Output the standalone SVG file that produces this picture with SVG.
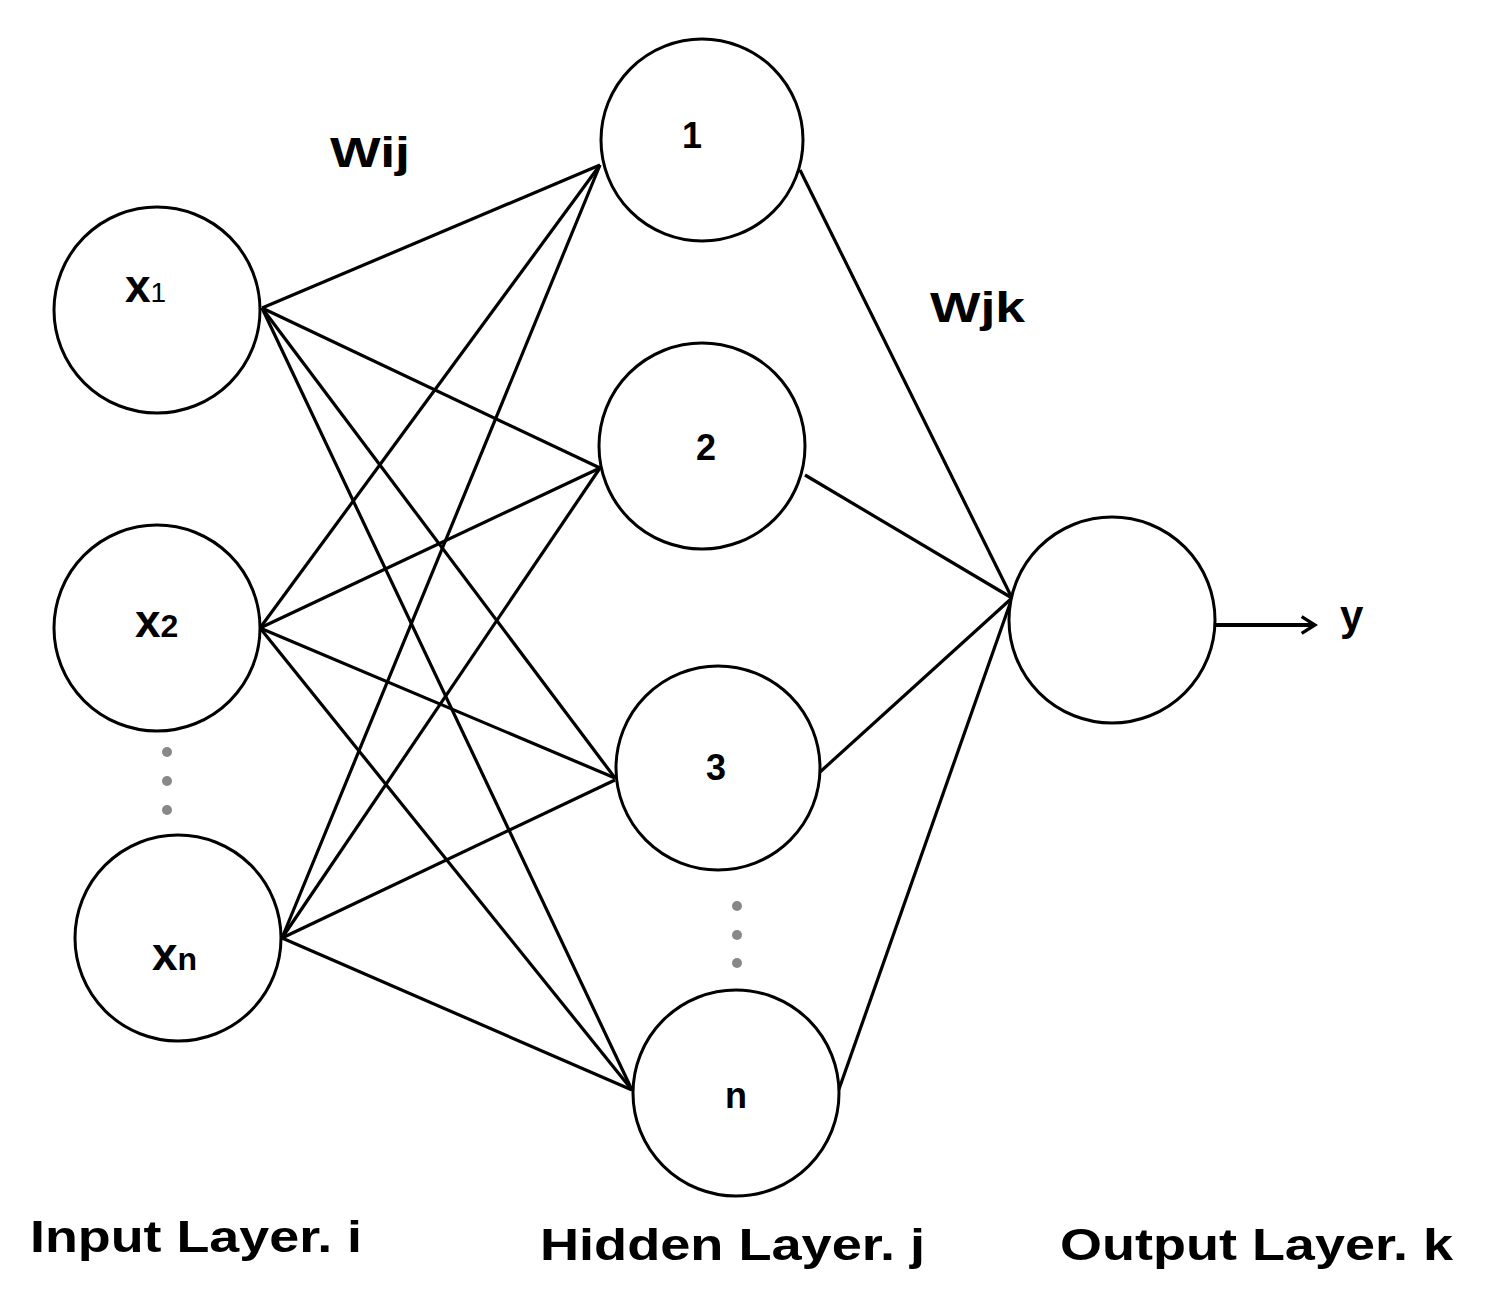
<svg xmlns="http://www.w3.org/2000/svg" width="1495" height="1306" viewBox="0 0 1495 1306">
<style>
.n{fill:#fff;stroke:#000;stroke-width:3}
.e line{stroke:#000;stroke-width:3.2}
text{font-family:"Liberation Sans",Arial,sans-serif;font-weight:bold;fill:#000}
.d{fill:#888}
</style>
<defs><marker id="a" viewBox="0 0 12 12" refX="10" refY="6" markerWidth="20" markerHeight="20" markerUnits="userSpaceOnUse" orient="auto"><path d="M2,1 L10,6 L2,11" fill="none" stroke="#000" stroke-width="2"/></marker></defs>
<rect width="1495" height="1306" fill="#fff"/>
<g class="e" id="connectors">
<line x1="262" y1="308" x2="600" y2="165"/><line x1="262" y1="308" x2="600" y2="468"/><line x1="262" y1="308" x2="615" y2="778"/><line x1="262" y1="308" x2="632" y2="1090"/>
<line x1="260" y1="628" x2="600" y2="165"/><line x1="260" y1="628" x2="600" y2="468"/><line x1="260" y1="628" x2="615" y2="778"/><line x1="260" y1="628" x2="632" y2="1090"/>
<line x1="282" y1="938" x2="600" y2="165"/><line x1="282" y1="938" x2="600" y2="468"/><line x1="282" y1="938" x2="615" y2="780"/><line x1="282" y1="938" x2="632" y2="1090"/>
<line x1="800" y1="170" x2="1012" y2="598"/><line x1="805" y1="475" x2="1012" y2="598"/><line x1="820" y1="772" x2="1012" y2="598"/><line x1="838" y1="1092" x2="1012" y2="598"/>
<line x1="1215" y1="625" x2="1315" y2="625" marker-end="url(#a)" style="stroke-width:4"/>
</g>
<g id="x1"><circle class="n" cx="157" cy="310" r="103"/><text x="125" y="302" font-size="46">x<tspan font-size="28" font-weight="normal">1</tspan></text></g>
<g id="x2"><circle class="n" cx="157" cy="628" r="103"/><text x="135" y="637" font-size="46">x<tspan font-size="32">2</tspan></text></g>
<g id="xn"><circle class="n" cx="178" cy="938" r="103"/><text x="152" y="970" font-size="46">x<tspan font-size="32">n</tspan></text></g>
<g id="dots1"><circle class="d" cx="167" cy="752" r="5"/><circle class="d" cx="167" cy="781" r="5"/><circle class="d" cx="167" cy="810" r="5"/></g>
<g id="h1"><circle class="n" cx="702" cy="140" r="101"/><text x="692" y="148" font-size="36" text-anchor="middle">1</text></g>
<g id="h2"><circle class="n" cx="702" cy="446" r="103"/><text x="706" y="460" font-size="36" text-anchor="middle">2</text></g>
<g id="h3"><circle class="n" cx="718" cy="768" r="102"/><text x="716" y="780" font-size="36" text-anchor="middle">3</text></g>
<g id="dots2"><circle class="d" cx="737" cy="906" r="5"/><circle class="d" cx="737" cy="935" r="5"/><circle class="d" cx="737" cy="963" r="5"/></g>
<g id="hn"><circle class="n" cx="736" cy="1093" r="103"/><text x="736" y="1108" font-size="36" text-anchor="middle">n</text></g>
<g id="out"><circle class="n" cx="1112" cy="620" r="103"/></g>
<text x="1340" y="630" font-size="42">y</text>
<text x="330" y="167" font-size="42" textLength="80" lengthAdjust="spacingAndGlyphs">Wij</text>
<text x="930" y="322" font-size="42" textLength="95" lengthAdjust="spacingAndGlyphs">Wjk</text>
<text x="30" y="1252" font-size="44" textLength="332" lengthAdjust="spacingAndGlyphs">Input Layer. i</text>
<text x="540" y="1260" font-size="44" textLength="385" lengthAdjust="spacingAndGlyphs">Hidden Layer. j</text>
<text x="1060" y="1260" font-size="44" textLength="393" lengthAdjust="spacingAndGlyphs">Output Layer. k</text>
</svg>
